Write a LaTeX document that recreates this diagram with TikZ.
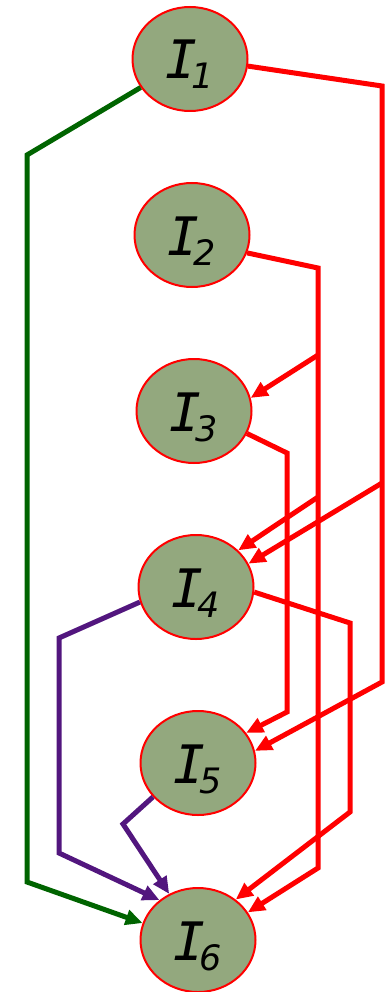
\documentclass[tikz,border=0pt]{standalone}
\usepackage{xcolor}
\usepackage{fontspec}
\usepackage{tikz}
\usetikzlibrary{shapes.geometric, arrows.meta, positioning, calc}

\newfontfamily\glyphfont{DejaVu Sans}
\newfontfamily\monofont{DejaVu Sans Mono}
\definecolor{nodefill}{RGB}{147,168,126}
\definecolor{linkred}{RGB}{255,0,0}
\definecolor{linkgreen}{RGB}{0,100,0}
\definecolor{linkpurple}{RGB}{82,22,126}
\newcommand{\itemlab}[1]{{\fontsize{53}{53}\selectfont\monofont\itshape I}\kern-6pt\raisebox{-10pt}{\fontsize{35}{35}\selectfont\glyphfont\itshape #1}}

\begin{document}
\begin{tikzpicture}[
  x=1pt, y=-1pt,
  item/.style={ellipse, draw=linkred, line width=2pt, fill=nodefill, minimum width=115pt, minimum height=104pt, inner sep=0pt, text height=40pt, text depth=0pt},
  link/.style={line width=5pt, -{Triangle[length=17pt, width=15pt]}}
]
  \useasboundingbox (0,0) rectangle (385,992);

  \node[item] (I1) at (190,59) {\itemlab{1}};
  \node[item] (I2) at (192,235) {\itemlab{2}};
  \node[item] (I3) at (194,411) {\itemlab{3}};
  \node[item] (I4) at (196,587) {\itemlab{4}};
  \node[item] (I5) at (198,763) {\itemlab{5}};
  \node[item] (I6) at (198,940) {\itemlab{6}};

  % bend points
  \coordinate (r1a) at (382,86);
  \coordinate (r1b) at (382,483);
  \coordinate (r1c) at (382,682);
  \coordinate (r2a) at (318,268);
  \coordinate (r2b) at (318,355);
  \coordinate (r2c) at (318,497);
  \coordinate (r2d) at (318,868);
  \coordinate (r3a) at (287,453);
  \coordinate (r3b) at (287,712);
  \coordinate (r4a) at (350,623);
  \coordinate (r4b) at (350,812);
  \coordinate (p4a) at (59,638);
  \coordinate (p4b) at (59,853);
  \coordinate (p5a) at (123,824);
  \coordinate (g1a) at (27,155);
  \coordinate (g1b) at (27,882);

  % red links
  \draw[link, linkred] (I1.-7) -- (r1a) -- (r1c) -- (I5.12);
  \draw[link, linkred] (r1b) -- (I4.24);
  \draw[link, linkred] (I2.-18) -- (r2a) -- (r2d) -- (I6.29);
  \draw[link, linkred] (r2b) -- (I3.13);
  \draw[link, linkred] (r2c) -- (I4.41);
  \draw[link, linkred] (I3.-23) -- (r3a) -- (r3b) -- (I5.32);
  \draw[link, linkred] (I4.-5) -- (r4a) -- (r4b) -- (I6.47);

  % purple links
  \draw[link, linkpurple] (I4.195) -- (p4a) -- (p4b) -- (I6.134);
  \draw[link, linkpurple] (I5.217) -- (p5a) -- (I6.122);

  % green link
  \draw[link, linkgreen] (I1.210) -- (g1a) -- (g1b) -- (I6.163);
\end{tikzpicture}
\end{document}
